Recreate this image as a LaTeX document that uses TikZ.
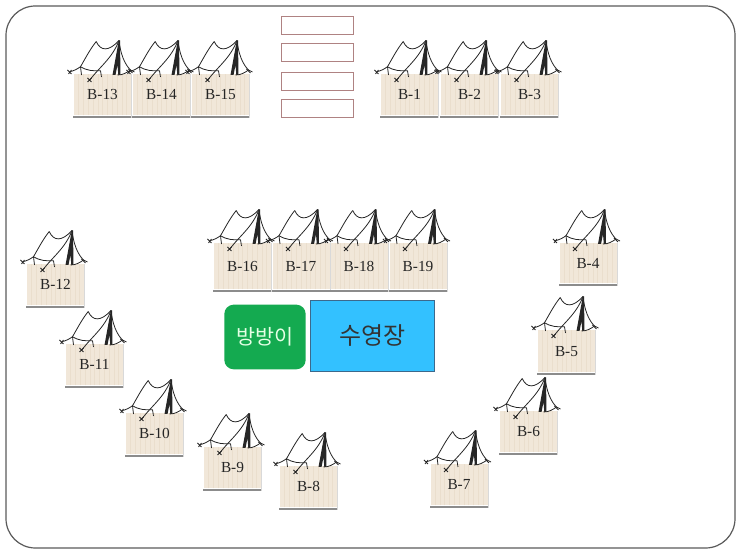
\documentclass[tikz,border=0pt]{standalone}
\usepackage{fontspec}
\setmainfont{Liberation Serif}
\newfontfamily\krfont{Noto Sans CJK KR}
\usetikzlibrary{positioning}

\definecolor{tanfill}{RGB}{241,231,217}
\definecolor{tanline}{RGB}{234,222,205}
\definecolor{frameline}{RGB}{90,90,90}
\definecolor{signline}{RGB}{175,130,130}
\definecolor{poolblue}{RGB}{51,193,255}
\definecolor{pooledge}{RGB}{60,105,140}
\definecolor{yardgreen}{RGB}{20,170,80}

\tikzset{
  campbox/.style={anchor=north,minimum width=42.75pt,inner sep=0pt,fill=tanfill,text=black!85,
    font=\fontsize{11.5pt}{13pt}\selectfont,
    path picture={\foreach \s in {1,...,11}
      \draw[tanline,line width=.7pt] ([xshift=\s*3.6pt]path picture bounding box.south west)
        -- ([xshift=\s*3.6pt]path picture bounding box.north west);}},
  signbox/.style={draw=signline,fill=white,line width=.7pt,minimum width=53.5pt,minimum height=13.5pt,inner sep=0pt}
}

% one box hanging from #1, name #2, label #3, height #4, with its tent on top
\newcommand{\camp}[4]{
  \node[campbox,minimum height=#4] (#2) at (#1) {#3};
  \fill[black!45] (#2.south west) ++(-.3pt,0) rectangle ([shift={(.6pt,-1.6pt)}]#2.south east);
  \fill[black!15] (#2.north east) rectangle ([shift={(.7pt,-1.6pt)}]#2.south east);
  \begin{scope}[shift={(#1)},x=.75pt,y=-.75pt,line width=.6pt,black!85]
    \fill (16.3,-33.5) -- (10,1) -- (13,1) -- (15,-9) -- (15.8,1) -- (18,1) -- (17.5,-33.5) -- cycle;
    \draw (-6.3,-32.5) .. controls (-2,-23) and (6,-22) .. (16.5,-33.5);
    \draw (-6.3,-32.5) .. controls (-13,-24) and (-18,-14) .. (-22,-7.3);
    \draw (16.5,-33.5) .. controls (10,-16) and (-3,-7) .. (-12.7,6);
    \draw (16.5,-33.5) .. controls (18,-20) and (22,-10) .. (28,-4);
    \draw (-32.7,-2.3) .. controls (-29,-3) and (-25,-5) .. (-22,-7.3)
          .. controls (-15,-3) and (-9,-3) .. (-2,-3.3);
    \draw (-22,-7.3) -- (-21,1);
    \draw (-2,-3.3) -- (-1,3);
    \draw (15,1) .. controls (20,1) and (24,-1) .. (28,-4);
    \draw (28,-4) -- (32,-2);
    \draw (-35,-4) -- (-31,0) (-31,-4) -- (-34,0);
    \draw (26,-5) -- (30,-1);
    \draw (-15,4) -- (-11,8) (-11,4) -- (-15,8);
  \end{scope}
}

\begin{document}
\begin{tikzpicture}[x=.75pt,y=-.75pt]
  \useasboundingbox (0,0) rectangle (740,555);

  \draw[frameline,line width=.9pt,rounded corners=22pt,fill=white] (6,6) rectangle (735,548);

  % signs at the top
  \node[signbox] (sign1) at (317.5,25) {};
  \node[signbox] (sign2) at (317.5,52) {};
  \node[signbox] (sign3) at (317.5,81) {};
  \node[signbox] (sign4) at (317.5,108) {};

  % middle block
  \node[fill=yardgreen,rounded corners=7pt,minimum width=61pt,minimum height=48.5pt,inner sep=0pt,
    text=white!90!green,font=\krfont\fontsize{15.5pt}{18pt}\selectfont] (yard) at (265,337) {방방이};
  \node[draw=pooledge,fill=poolblue,line width=.8pt,minimum width=93pt,minimum height=53pt,inner sep=0pt,
    text=black!80,font=\krfont\fontsize{18pt}{22pt}\selectfont] (pool) at (372.5,336) {수영장};

  \foreach \nm/\x/\y/\h in {13/102.5/74/30.75pt,14/161.5/74/30.75pt,15/220.5/74/30.75pt,
    1/409.5/74/30.75pt,2/469.5/74/30.75pt,3/529.5/74/30.75pt,
    16/242.5/243/34.5pt,17/301/243/34.5pt,18/359/243/34.5pt,19/418/243/34.5pt,
    4/588/243/30pt,5/566.5/330/31.5pt,6/528.5/411/30.75pt,7/459/464/30.75pt,
    8/308.5/466/30.75pt,9/232.5/447/30.75pt,10/154.5/413/30.75pt,11/94.5/344/30.75pt,12/55.5/264/30.75pt}
  {
    \coordinate (c\nm) at (\x,\y);
    \camp{c\nm}{b\nm}{B-\nm}{\h}
  }
\end{tikzpicture}
\end{document}
